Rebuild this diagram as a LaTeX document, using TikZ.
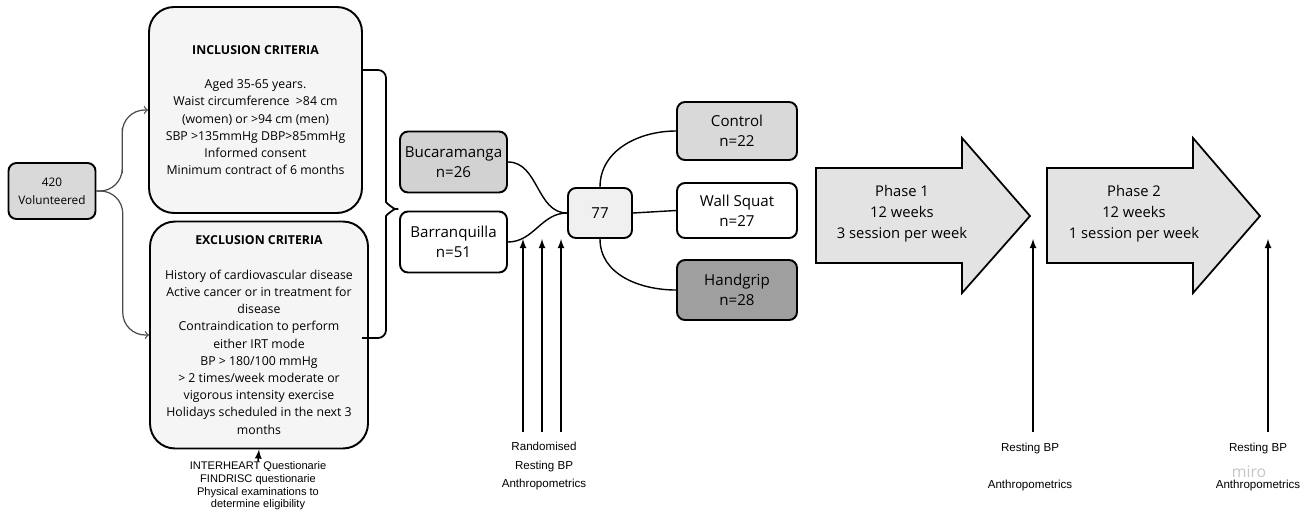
\documentclass[tikz,border=0pt]{standalone}
\usepackage{fontspec}
\setmainfont{Open Sans}
\newfontfamily\labfont{Liberation Sans}
\usepackage{xcolor}
\usetikzlibrary{calc}

\tikzset{
  crit/.style={draw, line width=1.1pt, rounded corners=0.5cm, fill=gray!8, align=center, inner sep=0pt, font=\fontsize{7}{9.8}\selectfont},
  grp/.style={draw, line width=1.1pt, rounded corners=0.16cm, align=center, inner sep=0pt, font=\fontsize{8.6}{11.3}\selectfont},
  link/.style={line width=0.8pt},
  feed/.style={line width=0.7pt, draw=black!70, rounded corners=0.45cm, ->},
  up/.style={line width=0.8pt, -latex},
  phase/.style={draw, line width=1pt, fill=gray!22, line join=miter},
  phtext/.style={align=center, inner sep=0pt, font=\fontsize{8.4}{11.9}\selectfont},
  note/.style={align=center, inner sep=0pt, font=\labfont\fontsize{6.6}{10.8}\selectfont},
}

\begin{document}
\begin{tikzpicture}[x=0.02cm,y=-0.02cm]
\useasboundingbox (0,0) rectangle (1307,514);

% screening
\node[grp, fill=gray!30, minimum width=1.74cm, minimum height=1.12cm, font=\fontsize{6.7}{10.2}\selectfont] (vol) at (52,191) {420\\Volunteered};
\node[crit, minimum width=4.26cm, minimum height=4.12cm] (inc) at (255.5,110) {{\bfseries INCLUSION CRITERIA}\\[9.8pt]
  Aged 35-65 years.\\
  Waist circumference~ >84 cm\\
  (women) or >94 cm (men)\\
  SBP >135mmHg DBP>85mmHg\\
  Informed consent\\
  Minimum contract of 6 months};
\node[crit, minimum width=4.36cm, minimum height=4.54cm] (exc) at (259,335) {{\bfseries EXCLUSION CRITERIA}\\[9.8pt]
  History of cardiovascular disease\\
  Active cancer or in treatment for\\
  disease\\
  Contraindication to perform\\
  either IRT mode\\
  BP > 180/100 mmHg\\
  > 2 times/week moderate or\\
  vigorous intensity exercise\\
  Holidays scheduled in the next 3\\
  months};
\draw[feed] (vol.east) -| ($(vol.east)!.5!(inc.west)$) |- (inc.west);
\draw[feed] (vol.east) -| ($(vol.east)!.5!(exc.west)$) |- (exc.west);
\node[note, font=\labfont\fontsize{6.3}{7.2}\selectfont] (elig) at (258,486) {INTERHEART Questionarie\\FINDRISC questionarie\\Physical examinations to\\determine eligibility};
\draw[up] (elig.north) -- (exc.south);

% brace
\draw[link, line width=1pt, rounded corners=0.16cm] (inc.east |- 0,70) -- (386,70) -- (386,194) to[out=-90,in=180] (403,209) to[out=180,in=90] (386,224) -- (386,338) -- (362,338);

% sites and groups
\node[grp, fill=gray!35, minimum width=2.14cm, minimum height=1.22cm] (buc) at (453.5,162) {Bucaramanga\\n=26};
\node[grp, fill=white, minimum width=2.14cm, minimum height=1.22cm] (bar) at (453.5,242) {Barranquilla\\n=51};
\node[grp, fill=gray!12, minimum width=1.28cm, minimum height=1cm] (mid) at (600,213) {77};
\node[grp, fill=gray!30, minimum width=2.4cm, minimum height=1.16cm] (ctrl) at (737,131) {Control\\n=22};
\node[grp, fill=white, minimum width=2.4cm, minimum height=1.1cm] (wall) at (737,210.5) {Wall Squat\\n=27};
\node[grp, fill=gray!75, minimum width=2.4cm, minimum height=1.2cm] (hand) at (737,290) {Handgrip\\n=28};
\draw[link] (buc.east) to[out=0,in=180] (mid.west);
\draw[link] (bar.east) to[out=0,in=180] (mid.west);
\draw[link] (mid.north) to[out=90,in=180] (ctrl.west);
\draw[link] (mid.east) -- (wall.west);
\draw[link] (mid.south) to[out=-90,in=180] (hand.west);

% baseline measures
\coordinate (r1) at (523,432);
\coordinate (r2) at (542,432);
\coordinate (r3) at (561,432);
\draw[up] (r1) -- (r1 |- mid.south);
\draw[up] (r2) -- (r2 |- mid.south);
\draw[up] (r3) -- (r3 |- mid.south);
\node[note] (rlab) at (544,466) {Randomised\\Resting BP\\Anthropometrics};

% training phases
\draw[phase] (816,168) -- (962,168) -- (962,138) -- (1030,216) -- (962,293) -- (962,263) -- (816,263) -- cycle;
\node[phtext] (ph1) at (902,214) {Phase 1\\12 weeks\\3 session per week};
\draw[phase] (1047,168) -- (1193,168) -- (1193,138) -- (1260,216) -- (1193,293) -- (1193,263) -- (1047,263) -- cycle;
\node[phtext] (ph2) at (1134,214) {Phase 2\\12 weeks\\1 session per week};

\coordinate (t1) at (1033,432);
\coordinate (t2) at (1268,432);
\draw[up] (t1) -- (t1 |- mid.south);
\draw[up] (t2) -- (t2 |- mid.south);
\node[note] (tlab1) at (1030,467) {Resting BP\\[10.8pt]Anthropometrics};
\node[text=gray!45, inner sep=0pt, font=\fontsize{9}{9}\selectfont] (miro) at (1249,472) {miro};
\node[note] (tlab2) at (1258,467) {Resting BP\\[10.8pt]Anthropometrics};

\end{tikzpicture}
\end{document}
